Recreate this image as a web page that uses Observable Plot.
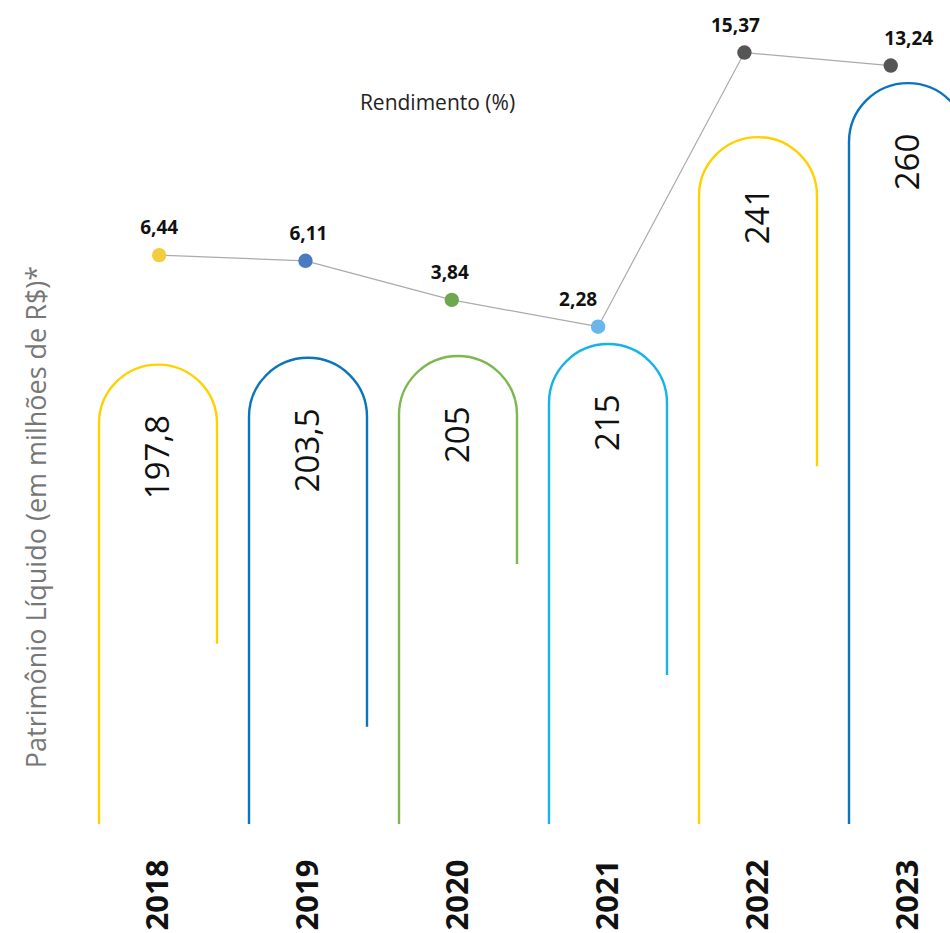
<!DOCTYPE html>
<html>
<head>
<meta charset="utf-8">
<script src="https://cdn.jsdelivr.net/npm/d3@7"></script>
<script src="https://cdn.jsdelivr.net/npm/@observablehq/plot@0.6"></script>
<style>
  html, body { margin: 0; padding: 0; background: #fff; overflow: hidden; }
  #chart { position: relative; width: 950px; height: 933px; overflow: hidden; }
  #chart svg { position: absolute; left: 0; top: 0; }
</style>
</head>
<body>
<div id="chart"></div>
<script>
// ---------- Dados ----------
const anos = [2018, 2019, 2020, 2021, 2022, 2023];
const patrimonio = [197.8, 203.5, 205, 215, 241, 260];   // R$ milhões
const rendimento = [6.44, 6.11, 3.84, 2.28, 15.37, 13.24]; // %
const rotuloEixoY = "Patrimônio Líquido (em milhões de R$)*";
const tituloLinha = "Rendimento (%)";

// ---------- Estilo ----------
const corArco  = ["#FFD100", "#0A74BC", "#7DB84F", "#14B4E9", "#FFD100", "#0A74BC"];
const corPonto = ["#F3CC3F", "#4A7BC0", "#6DA84C", "#6AB6EC", "#555555", "#555555"];
const estilo = {
  raioArco: 59,
  baseArco: 824,
  pernaDireita: [220, 310, 149, 272, 270, 300],
  rotuloDx: [0, 3, -2, -20, -9, 18]
};
const fonte = "'Open Sans', 'Noto Sans', sans-serif";

const fmt1 = v => String(v).replace(".", ",");
const fmt2 = v => v.toFixed(2).replace(".", ",");

const dados = anos.map((ano, i) => ({ano, pl: patrimonio[i], rend: rendimento[i], i}));

// ---------- Arcos (função-marca que usa as escalas do Plot) ----------
const arcos = (index, scales) => {
  const g = d3.create("svg:g").attr("fill", "none").attr("stroke-width", 2.4);
  for (const d of dados) {
    const r = estilo.raioArco;
    const cx = scales.x(d.ano);
    const topo = scales.y(d.pl);
    const ombro = topo + r;
    const p = d3.path();
    p.moveTo(cx - r, estilo.baseArco);
    p.lineTo(cx - r, ombro);
    p.arc(cx, ombro, r, Math.PI, 2 * Math.PI, false);
    p.lineTo(cx + r, ombro + estilo.pernaDireita[d.i]);
    g.append("path").attr("d", p.toString()).attr("stroke", corArco[d.i]);
  }
  return g.node();
};

const plotA = Plot.plot({
  width: 950, height: 933, margin: 0,
  style: {background: "transparent", fontFamily: fonte},
  x: {type: "linear", domain: [2017.5, 2023.5], range: [83, 983], axis: null},
  y: {type: "linear", domain: [195, 215, 240, 265], range: [368, 344, 140, 69], axis: null},
  marks: [
    arcos,
    Plot.text(dados, {
      x: "ano", y: "pl", text: d => fmt1(d.pl),
      rotate: -90, textAnchor: "end", lineAnchor: "middle", dy: 50,
      fontSize: 33, fill: "#111"
    }),
    Plot.text(dados, {
      x: "ano", frameAnchor: "bottom", text: d => String(d.ano),
      rotate: -90, textAnchor: "start", lineAnchor: "middle", dy: -3,
      fontSize: 31, fontWeight: "bold", fill: "#111"
    }),
    Plot.text([rotuloEixoY], {
      frameAnchor: "left", dx: 37, dy: 50, rotate: -90,
      textAnchor: "middle", lineAnchor: "middle",
      fontSize: 27, fill: "#777"
    })
  ]
});

const plotB = Plot.plot({
  width: 950, height: 933, margin: 0,
  style: {background: "transparent", fontFamily: fonte},
  x: {type: "linear", domain: [2017.5, 2023.5], range: [85.5, 963.4], axis: null},
  y: {type: "linear", domain: [2, 7, 13, 16], range: [331, 245, 66.5, 48.2], axis: null},
  marks: [
    Plot.line(dados, {x: "ano", y: "rend", stroke: "#ABABAB", strokeWidth: 1.2}),
    Plot.dot(dados, {x: "ano", y: "rend", r: 7.2, fill: d => corPonto[d.i], stroke: null}),
    ...dados.map(d => Plot.text([d], {
      x: "ano", y: "rend", text: v => fmt2(v.rend),
      dx: estilo.rotuloDx[d.i], dy: -21, lineAnchor: "bottom", textAnchor: "middle",
      fontSize: 19, fontWeight: "bold", fill: "#111"
    })),
    Plot.text([tituloLinha], {
      frameAnchor: "top-left", dx: 437, dy: 103,
      textAnchor: "middle", lineAnchor: "middle",
      fontSize: 21, fill: "#222"
    })
  ]
});

const chart = document.getElementById("chart");
chart.append(plotA, plotB);
</script>
</body>
</html>
